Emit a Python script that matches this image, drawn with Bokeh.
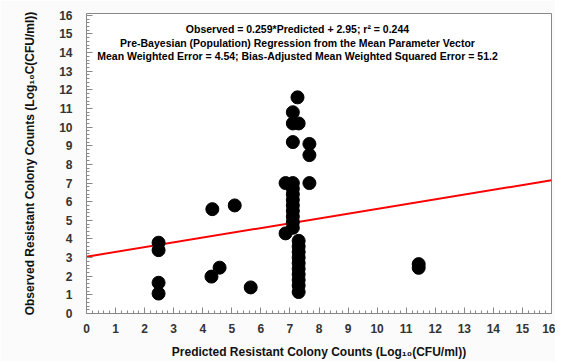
from bokeh.plotting import figure
from bokeh.models import Range1d, SingleIntervalTicker, Label
from bokeh.embed import file_html
from bokeh.resources import INLINE

# Observed vs predicted data
pred = [2.48, 2.48, 2.48, 2.48,
        4.33, 5.1, 4.3, 4.58, 5.65,
        11.43, 11.43,
        7.26, 7.1, 7.1, 7.3, 7.1, 7.67, 7.67, 7.67,
        6.85, 7.1, 7.1, 7.1, 7.1, 7.1, 7.1, 7.1, 7.1, 7.1, 6.85,
        7.3, 7.3, 7.3, 7.3, 7.3, 7.3, 7.3, 7.3, 7.3, 7.3]
obs = [3.8, 3.4, 1.65, 1.07,
       5.6, 5.8, 1.98, 2.46, 1.4,
       2.45, 2.65,
       11.6, 10.8, 10.2, 10.2, 9.2, 9.1, 8.5, 7.0,
       7.0, 7.0, 6.7, 6.4, 6.1, 5.8, 5.5, 5.2, 4.9, 4.6, 4.3,
       3.9, 3.6, 3.3, 3.0, 2.7, 2.4, 2.1, 1.8, 1.5, 1.15]

# Regression line endpoints
line_x = [0, 16]
line_y = [3.05, 7.15]

annot = ["Observed = 0.259*Predicted + 2.95; r\u00b2 = 0.244",
         "Pre-Bayesian (Population) Regression from the Mean Parameter Vector",
         "Mean Weighted Error = 4.54; Bias-Adjusted Mean Weighted Squared Error = 51.2"]
annot_y = [15.25, 14.5, 13.8]

FONT = "Liberation Sans"

p = figure(width=555, height=361, output_backend="svg", toolbar_location=None,
           x_range=Range1d(0, 16), y_range=Range1d(0, 16.1),
           min_border_left=86, min_border_right=4, min_border_top=13, min_border_bottom=47)
p.background_fill_color = "white"
p.border_fill_color = "#fbfbfb"
p.outline_line_color = "#888888"
p.outline_line_width = 1
p.xgrid.visible = False
p.ygrid.visible = False

for ax in (p.xaxis[0], p.yaxis[0]):
    ax.ticker = SingleIntervalTicker(interval=1, num_minor_ticks=5)
    ax.axis_line_color = "#888888"
    ax.major_tick_line_color = "#888888"
    ax.minor_tick_line_color = "#888888"
    ax.major_tick_in = 6
    ax.major_tick_out = 0
    ax.minor_tick_in = 3
    ax.minor_tick_out = 0
    ax.major_label_text_font = FONT
    ax.major_label_text_font_size = "12px"
    ax.major_label_text_font_style = "bold"
    ax.major_label_text_color = "#333333"
    ax.axis_label_text_font = FONT
    ax.axis_label_text_font_size = "12px"
    ax.axis_label_text_font_style = "bold"
    ax.axis_label_text_color = "#111111"

p.xaxis.axis_label = "Predicted Resistant Colony Counts (Log\u2081\u2080(CFU/ml))"
p.yaxis.axis_label = "Observed Resistant Colony Counts (Log\u2081\u2080C(CFU/ml))"
p.xaxis.major_label_standoff = 10
p.xaxis.axis_label_standoff = 9
p.yaxis.major_label_standoff = 14
p.yaxis.axis_label_standoff = 19

p.line(line_x, line_y, line_color="#ff0000", line_width=2)
p.scatter(pred, obs, size=13, fill_color="black", line_color="black")

for t, yy in zip(annot, annot_y):
    p.add_layout(Label(x=7.26, y=yy, text=t, text_align="center", text_baseline="middle",
                       text_font=FONT, text_font_size="10.5px", text_font_style="bold",
                       text_color="black"))

open("out.html", "w").write(file_html(p, INLINE))
